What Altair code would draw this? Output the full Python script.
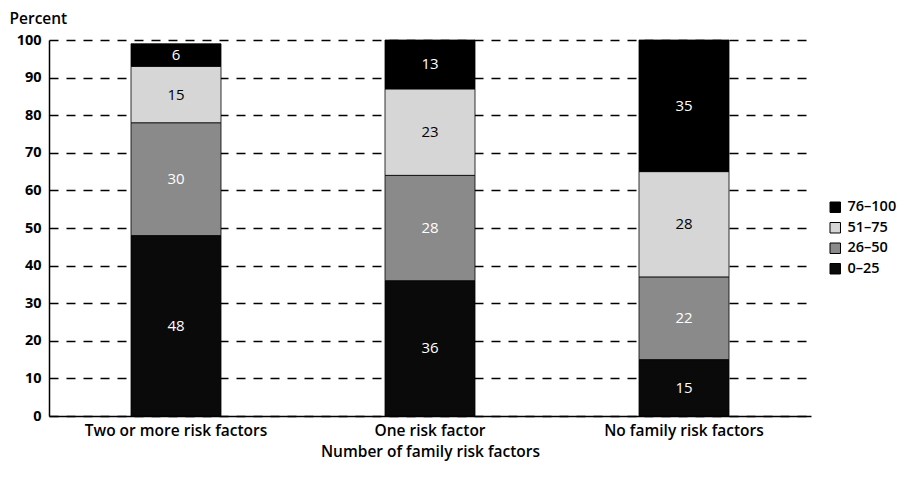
import altair as alt
import pandas as pd

categories = ["Two or more risk factors", "One risk factor", "No family risk factors"]
groups = ["0–25", "26–50", "51–75", "76–100"]
values_0_25 = [48, 36, 15]
values_26_50 = [30, 28, 22]
values_51_75 = [15, 23, 28]
values_76_100 = [6, 13, 35]
y_ticks = [0, 10, 20, 30, 40, 50, 60, 70, 80, 90, 100]

series = [values_0_25, values_26_50, values_51_75, values_76_100]
rows = []
for gi, (g, vals) in enumerate(zip(groups, series)):
    for c, v in zip(categories, vals):
        rows.append({"cat": c, "group": g, "value": v, "order": gi})
df = pd.DataFrame(rows)

FONT = "Open Sans"
legend_order = ["76–100", "51–75", "26–50", "0–25"]
color_range = ["#000000", "#d6d6d6", "#8a8a8a", "#0a0a0a"]

base = alt.Chart(df).transform_stack(
    stack="value", groupby=["cat"], as_=["y0", "y1"],
    sort=[alt.SortField("order", order="ascending")]
).transform_calculate(mid="(datum.y0 + datum.y1) / 2")

xscale = alt.Scale(paddingInner=0, paddingOuter=0)
xaxis = alt.Axis(title="Number of family risk factors", labelAngle=0,
                 labelFont=FONT, labelFontSize=15.5, labelFontWeight=600,
                 labelColor="#000", labelLimit=0,
                 titleFont=FONT, titleFontSize=15.5, titleFontWeight=600,
                 titleColor="#000", titlePadding=6,
                 domainColor="#000", domainWidth=1.5, ticks=False,
                 labelPadding=7)

yscale = alt.Scale(domain=[0, 100], nice=False)
yaxis = alt.Axis(values=y_ticks, title="Percent", titleAngle=0,
                 titleAlign="left", titleBaseline="middle",
                 titleX=-40, titleY=-22, titleFont=FONT,
                 titleFontSize=15.5, titleFontWeight=600, titleColor="#000",
                 labelFont=FONT, labelFontSize=14.5, labelFontWeight="bold",
                 labelColor="#000", labelPadding=8, ticks=False,
                 labelOverlap=False,
                 domainColor="#000", domainWidth=1.5,
                 grid=True, gridColor="#000", gridDash=[9, 8],
                 gridWidth=1.3)

bars = base.mark_bar(size=90, stroke="#000", strokeWidth=0.8).encode(
    x=alt.X("cat:N", sort=categories, scale=xscale, axis=xaxis),
    y=alt.Y("y0:Q", scale=yscale, axis=yaxis),
    y2="y1:Q",
    color=alt.Color("group:N",
                    scale=alt.Scale(domain=legend_order, range=color_range),
                    legend=alt.Legend(title=None, orient="none", legendX=779,
                                      legendY=160, symbolType="square",
                                      symbolSize=110, symbolStrokeColor="#000",
                                      symbolStrokeWidth=1, padding=0,
                                      labelFont=FONT, labelFontSize=14.5,
                                      labelFontWeight=600,
                                      labelColor="#000", rowPadding=4.5,
                                      labelOffset=5)),
)

labels = base.mark_text(font=FONT, fontSize=15).encode(
    x=alt.X("cat:N", sort=categories, scale=xscale, axis=xaxis),
    y=alt.Y("mid:Q", scale=yscale, axis=yaxis),
    text=alt.Text("value:Q"),
    color=alt.condition(alt.datum.group == "51–75", alt.value("#000"), alt.value("#fff")),
)

chart = alt.layer(bars, labels).properties(
    width=762, height=376,
    padding={"left": 1, "top": 3, "right": 0, "bottom": 1},
).configure_view(stroke=None)

chart.save("out.html", embed_options={"renderer": "svg", "actions": False})
